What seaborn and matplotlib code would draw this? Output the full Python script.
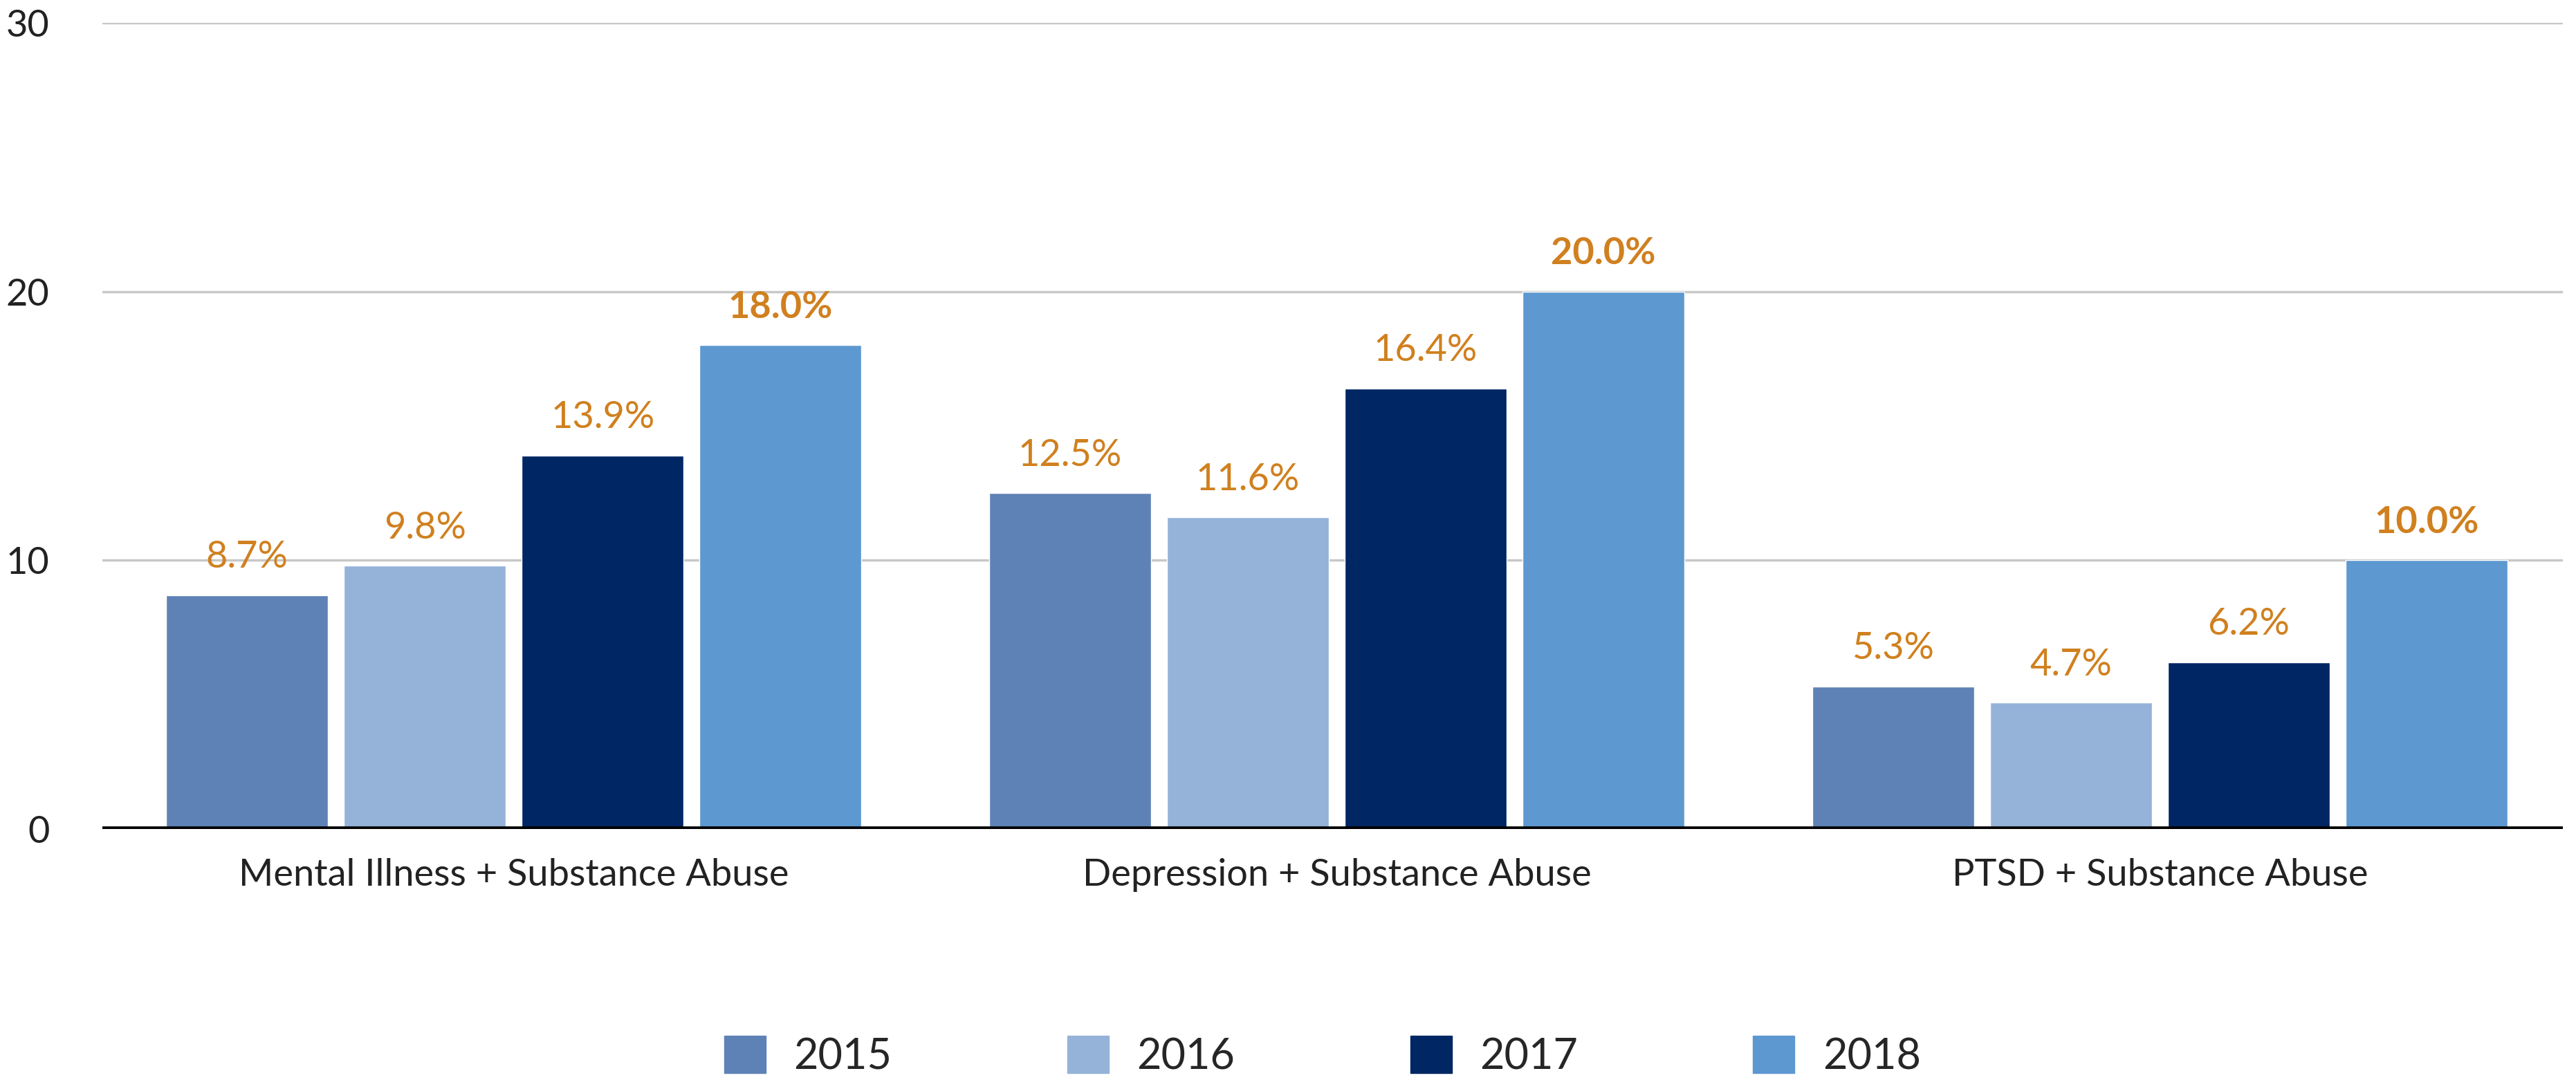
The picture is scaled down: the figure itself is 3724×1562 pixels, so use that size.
import matplotlib.pyplot as plt
import pandas as pd
import seaborn as sns

categories = ['Mental Illness + Substance Abuse', 'Depression + Substance Abuse', 'PTSD + Substance Abuse']
years = ['2015', '2016', '2017', '2018']
v2015 = [8.7, 12.5, 5.3]
v2016 = [9.8, 11.6, 4.7]
v2017 = [13.9, 16.4, 6.2]
v2018 = [18.0, 20.0, 10.0]
colors = ['#5F82B6', '#95B3D9', '#002663', '#5D98D0']
label_color = '#D0801F'

sns.set_theme(style='white')
plt.rcParams['font.family'] = ['Lato', 'DejaVu Sans']

rows = []
for yr, vals in zip(years, [v2015, v2016, v2017, v2018]):
    for cat, v in zip(categories, vals):
        rows.append({'category': cat, 'year': yr, 'value': v})
df = pd.DataFrame(rows)

fig = plt.figure(figsize=(37.24, 15.62), dpi=100)
ax = fig.add_axes([0.0397, 0.2324, 0.9553, 0.7465])

sns.barplot(data=df, x='category', y='value', hue='year', order=categories,
            hue_order=years, palette=colors, width=0.864, gap=0.09,
            saturation=1, legend=False, ax=ax, zorder=3)

for i, cont in enumerate(ax.containers):
    bold = (i == len(ax.containers) - 1)
    ax.bar_label(cont, labels=['%.1f%%' % b.get_height() for b in cont],
                 padding=22, color=label_color, fontsize=39,
                 fontweight='bold' if bold else 'normal')

ax.set_ylim(0, 30)
ax.set_xlim(-0.5, 2.49)
ax.set_yticks([0, 10, 20, 30])
ax.grid(axis='y', color='#C8C8C8', linewidth=2.5, zorder=0)
ax.grid(axis='x', visible=False)
ax.axhline(0, color='black', linewidth=5.5, zorder=4)
for s in ax.spines.values():
    s.set_visible(False)
ax.tick_params(axis='y', length=0, pad=55, labelsize=39, labelcolor='#222222')
ax.tick_params(axis='x', length=0, pad=30, labelsize=39, labelcolor='#222222')
ax.set_xlabel('')
ax.set_ylabel('')

handles = [plt.Rectangle((0, 0), 1, 1, color=c) for c in colors]
fig.legend(handles, years, loc='center', bbox_to_anchor=(0.5134, 0.022), ncol=4,
           frameon=False, fontsize=44, handlelength=0.98, handleheight=0.98,
           handletextpad=0.66, columnspacing=4.15)

fig.savefig('out.png', dpi=100)
